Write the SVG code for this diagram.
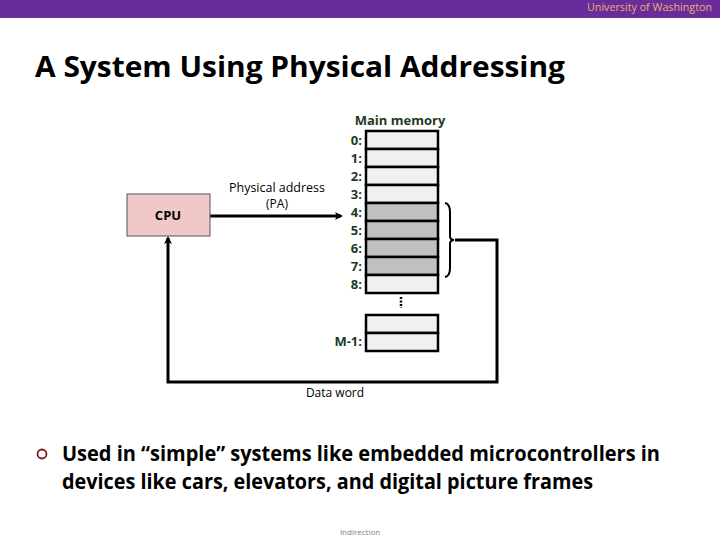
<svg xmlns="http://www.w3.org/2000/svg" width="720" height="540" viewBox="0 0 720 540">
<style>
.lbl{font-family:"Open Sans","Liberation Sans",Arial,sans-serif;font-weight:bold;font-size:13px;fill:#1f3a1f;text-anchor:end}
.cell{stroke:#000;stroke-width:2.5}
.lt{fill:#f0f0f0}
.dk{fill:#c0c0c0}
.wire{fill:none;stroke:#000;stroke-width:3}
.txt{font-family:"Open Sans","Liberation Sans",Arial,sans-serif;fill:#000}
</style>
<defs>
<marker id="ah" markerWidth="8" markerHeight="8" refX="6" refY="4" orient="auto" markerUnits="userSpaceOnUse" viewBox="0 0 8 8">
<path d="M0,0 L8,4 L0,8 L2,4 Z" fill="#000"/>
</marker>
</defs>
<rect width="720" height="540" fill="#fff"/>
<rect x="0" y="0" width="720" height="18" fill="#6a2c9a"/>
<text x="712" y="11" font-family="Open Sans,Liberation Sans,Arial,sans-serif" font-size="10" fill="#e8b070" text-anchor="end" textLength="125" lengthAdjust="spacingAndGlyphs">University of Washington</text>
<text x="35" y="77" class="txt" font-size="28" font-weight="bold" textLength="530" lengthAdjust="spacingAndGlyphs">A System Using Physical Addressing</text>

<g id="connectors">
<line x1="210" y1="216" x2="341" y2="216" class="wire" marker-end="url(#ah)"/>
<path d="M455,240 H497 V382 H168 V238" class="wire" marker-end="url(#ah)"/>
<path d="M445,203 Q450,204 450,212 V236 Q450,240 454,240 Q450,240 450,244 V268 Q450,276 445,277" fill="none" stroke="#000" stroke-width="2"/>
</g>

<g id="cpu">
<rect x="127" y="194" width="83" height="42" fill="#f0c8c8" stroke="#555" stroke-width="1"/>
<text x="168" y="220" class="txt" font-size="13" font-weight="bold" text-anchor="middle">CPU</text>
</g>

<g id="pa-label">
<text x="277" y="192" class="txt" font-size="12" text-anchor="middle" textLength="96" lengthAdjust="spacingAndGlyphs">Physical address</text>
<text x="277" y="208" class="txt" font-size="12" text-anchor="middle">(PA)</text>
</g>

<g id="memory">
<text x="400" y="125" class="txt" font-size="13" font-weight="bold" text-anchor="middle" style="fill:#1f3a1f">Main memory</text>
<rect x="366" y="131" width="72" height="18" class="cell lt"/>
<rect x="366" y="149" width="72" height="18" class="cell lt"/>
<rect x="366" y="167" width="72" height="18" class="cell lt"/>
<rect x="366" y="185" width="72" height="18" class="cell lt"/>
<rect x="366" y="203" width="72" height="18" class="cell dk"/>
<rect x="366" y="221" width="72" height="18" class="cell dk"/>
<rect x="366" y="239" width="72" height="18" class="cell dk"/>
<rect x="366" y="257" width="72" height="18" class="cell dk"/>
<rect x="366" y="275" width="72" height="18" class="cell lt"/>
<text x="362" y="145" class="lbl">0:</text>
<text x="362" y="163" class="lbl">1:</text>
<text x="362" y="181" class="lbl">2:</text>
<text x="362" y="199" class="lbl">3:</text>
<text x="362" y="217" class="lbl">4:</text>
<text x="362" y="235" class="lbl">5:</text>
<text x="362" y="253" class="lbl">6:</text>
<text x="362" y="271" class="lbl">7:</text>
<text x="362" y="289" class="lbl">8:</text>
<line x1="401" y1="297" x2="401" y2="308" stroke="#000" stroke-width="2.5" stroke-dasharray="2,1.5"/>
<rect x="366" y="315" width="72" height="18" class="cell lt"/>
<rect x="366" y="333" width="72" height="18" class="cell lt"/>
<text x="362" y="346" class="lbl">M-1:</text>
</g>

<g id="data-word">
<text x="335" y="397" class="txt" font-size="12" text-anchor="middle">Data word</text>
</g>

<circle cx="42" cy="454" r="4.5" fill="none" stroke="#7a1a1a" stroke-width="1.8"/>
<text x="62" y="461" class="txt" font-size="21" font-weight="bold" textLength="598" lengthAdjust="spacingAndGlyphs">Used in “simple” systems like embedded microcontrollers in</text>
<text x="62" y="489" class="txt" font-size="21" font-weight="bold" textLength="531" lengthAdjust="spacingAndGlyphs">devices like cars, elevators, and digital picture frames</text>
<text x="360" y="535" font-family="Open Sans,Liberation Sans,Arial,sans-serif" font-size="8" fill="#808080" text-anchor="middle">Indirection</text>
</svg>
